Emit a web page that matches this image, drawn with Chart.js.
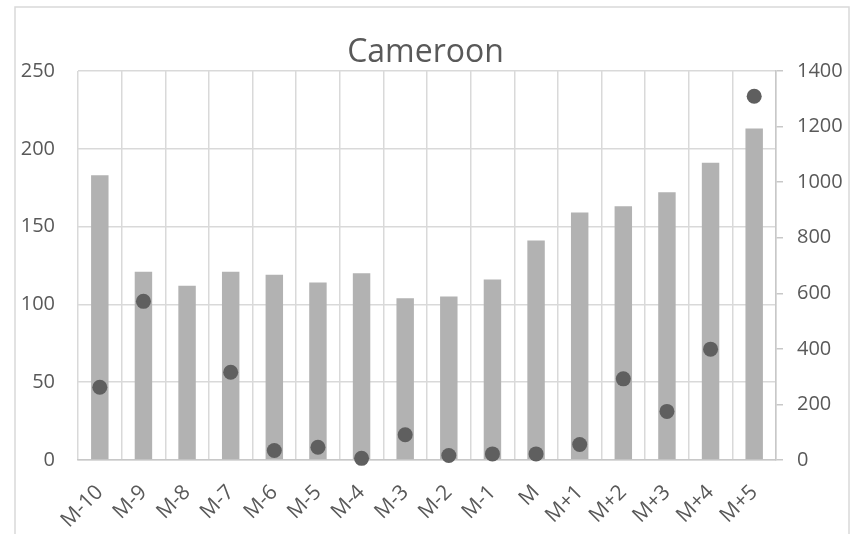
<!DOCTYPE html>
<html>
<head>
<meta charset="utf-8">
<script src="https://cdn.jsdelivr.net/npm/chart.js@4.4.1/dist/chart.umd.min.js"></script>
<style>
  html, body { margin: 0; padding: 0; background: #ffffff; }
  #wrap { position: relative; width: 851px; height: 534px; }
</style>
</head>
<body>
<div id="wrap"><canvas id="chart" width="851" height="534"></canvas></div>
<script>
const months = ['M-10', 'M-9', 'M-8', 'M-7', 'M-6', 'M-5', 'M-4', 'M-3', 'M-2', 'M-1', 'M', 'M+1', 'M+2', 'M+3', 'M+4', 'M+5'];
// bars, left axis
const barValues = [183, 121, 112, 121, 119, 114, 120, 104, 105, 116, 141, 159, 163, 172, 191, 213];
// dots, right axis (no value for M-8)
const dotValues = [262, 571, null, 316, 34, 46, 6, 91, 16, 22, 22, 56, 292, 175, 399, 1309];
const leftTicks = [0, 50, 100, 150, 200, 250];
const rightTicks = [0, 200, 400, 600, 800, 1000, 1200, 1400];

const TEXT = '#595959';
const GRID = '#d9d9d9';
const FONT = "'Open Sans', sans-serif";

// outer light frame around the chart
const framePlugin = {
  id: 'frame',
  beforeDraw(chart) {
    const ctx = chart.ctx;
    ctx.save();
    ctx.fillStyle = '#ffffff';
    ctx.fillRect(0, 0, chart.width, chart.height);
    ctx.strokeStyle = GRID;
    ctx.lineWidth = 1.5;
    ctx.strokeRect(15, 7, 834, 600);
    ctx.restore();
  }
};

function renderChart() {
  const ctx = document.getElementById('chart');
  new Chart(ctx, {
    data: {
      labels: months,
      datasets: [
        {
          type: 'line',
          label: 'Right',
          data: dotValues,
          yAxisID: 'y1',
          showLine: false,
          pointRadius: 7.5,
          pointHoverRadius: 7.5,
          pointBackgroundColor: '#5f5f5f',
          pointBorderWidth: 0,
          borderColor: '#5f5f5f',
          clip: false,
          order: 1
        },
        {
          type: 'bar',
          label: 'Left',
          data: barValues,
          yAxisID: 'y',
          backgroundColor: '#b2b2b2',
          categoryPercentage: 0.8,
          barPercentage: 0.5,
          order: 2
        }
      ]
    },
    options: {
      responsive: false,
      animation: false,
      layout: { padding: { left: 0, right: 0, top: 0, bottom: 0 } },
      plugins: {
        legend: { display: false },
        tooltip: { enabled: false },
        title: {
          display: true,
          text: 'Cameroon',
          color: TEXT,
          font: { family: FONT, size: 32, weight: 'normal', lineHeight: 1 },
          padding: { top: 37, bottom: 2 }
        }
      },
      scales: {
        x: {
          offset: true,
          grid: { color: GRID, lineWidth: 1.5, offset: true, drawTicks: false },
          border: { display: true, color: '#c8c8c8', width: 1.5 },
          ticks: {
            color: TEXT,
            font: { family: FONT, size: 21 },
            minRotation: 45,
            maxRotation: 45,
            padding: 20,
            autoSkip: false
          },
          afterFit(scale) { scale.height = 74; }
        },
        y: {
          position: 'left',
          min: 0,
          max: 250,
          afterBuildTicks(scale) { scale.ticks = leftTicks.map(v => ({ value: v })); },
          grid: { color: GRID, lineWidth: 1.5, drawTicks: false },
          border: { display: false },
          ticks: { color: TEXT, font: { family: FONT, size: 20 }, padding: 23 },
          afterFit(scale) { scale.width = 78; }
        },
        y1: {
          position: 'right',
          min: 0,
          max: 1400,
          afterBuildTicks(scale) { scale.ticks = rightTicks.map(v => ({ value: v })); },
          grid: { drawOnChartArea: false, color: '#c8c8c8', lineWidth: 1.5, tickLength: 7 },
          border: { display: true, color: '#c8c8c8', width: 1.5 },
          ticks: {
            color: TEXT,
            font: { family: FONT, size: 20 },
            padding: 14,
            callback: value => String(value)
          },
          afterFit(scale) { scale.width = 75; }
        }
      }
    },
    plugins: [framePlugin]
  });
}

window.addEventListener('DOMContentLoaded', renderChart);
</script>
</body>
</html>
